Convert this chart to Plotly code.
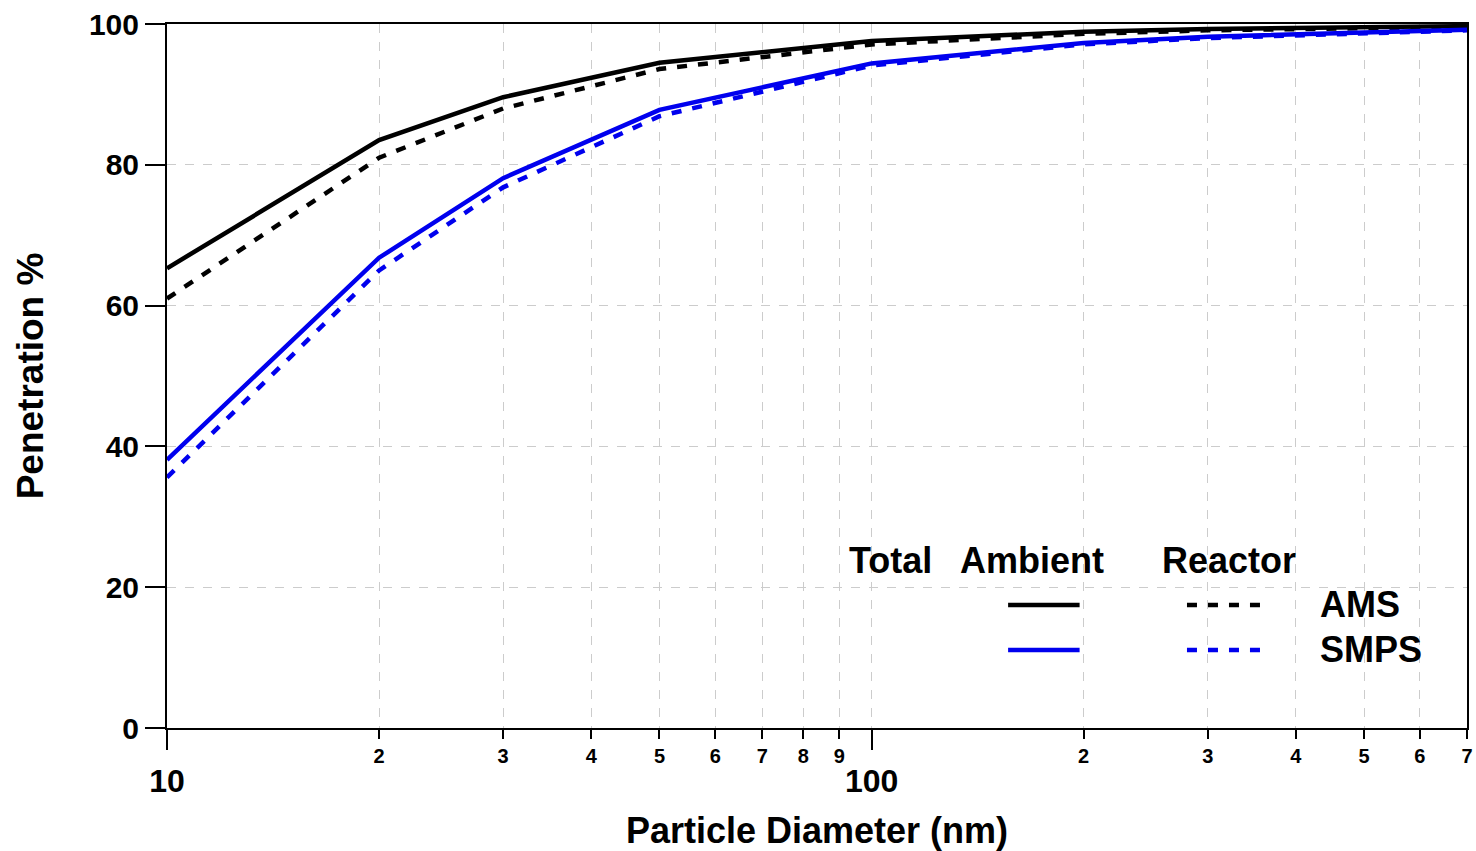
import numpy as np
import plotly.graph_objects as go

# ---- data ----
diameter_nm = [10, 20, 30, 50, 100, 200, 300, 500, 700]
ambient_ams = [65.3, 83.5, 89.6, 94.5, 97.6, 98.9, 99.3, 99.6, 99.7]
reactor_ams = [61.0, 81.0, 88.0, 93.6, 97.1, 98.6, 99.1, 99.4, 99.6]
ambient_smps = [38.1, 66.8, 78.1, 87.8, 94.4, 97.3, 98.2, 98.8, 99.2]
reactor_smps = [35.6, 65.0, 76.8, 86.9, 94.1, 97.1, 98.0, 98.7, 99.1]

major_ticks = [10, 100]
major_labels = ["10", "100"]
minor_ticks = [20, 30, 40, 50, 60, 70, 80, 90, 200, 300, 400, 500, 600, 700]
minor_labels = ["2", "3", "4", "5", "6", "7", "8", "9", "2", "3", "4", "5", "6", "7"]
y_ticks = [0, 20, 40, 60, 80, 100]

FONT = "Liberation Sans, Arial, sans-serif"
BLUE = "#0000ee"
GRID = "#cccccc"
DASH = "10px,11px"

fig = go.Figure()
series = [
    (ambient_ams, "black", "solid", "Ambient AMS"),
    (reactor_ams, "black", DASH, "Reactor AMS"),
    (ambient_smps, BLUE, "solid", "Ambient SMPS"),
    (reactor_smps, BLUE, DASH, "Reactor SMPS"),
]
for vals, col, dash, name in series:
    fig.add_trace(go.Scatter(x=diameter_nm, y=vals, mode="lines", name=name,
                             line=dict(color=col, width=4.5, dash=dash),
                             showlegend=False, cliponaxis=False))

# invisible trace to activate xaxis2
fig.add_trace(go.Scatter(x=[diameter_nm[0]], y=[None], xaxis="x2", showlegend=False,
                         hoverinfo="skip", mode="lines"))

xr = [np.log10(10), np.log10(700)]
fig.update_layout(
    width=1476, height=851,
    margin=dict(l=167, r=9, t=24, b=123),
    plot_bgcolor="white", paper_bgcolor="white",
    font=dict(family=FONT, color="black"),
    xaxis=dict(type="log", range=xr, tickvals=major_ticks, ticktext=major_labels,
               automargin=False, ticklabeloverflow="allow",
               ticks="outside", ticklen=20, tickwidth=2, tickcolor="black",
               tickfont=dict(family=FONT, size=32, weight="bold"),
               ticklabelstandoff=4,
               showline=True, linecolor="black", linewidth=2, mirror=True,
               showgrid=True, gridcolor=GRID, griddash="dash", gridwidth=1,
               zeroline=False,
               title=dict(text="Particle Diameter (nm)", standoff=19,
                          font=dict(family=FONT, size=36, weight="bold"))),
    xaxis2=dict(type="log", range=xr, overlaying="x", anchor="y", side="bottom",
                automargin=False, ticklabeloverflow="allow",
                tickvals=minor_ticks, ticktext=minor_labels,
                ticks="outside", ticklen=10, tickwidth=2, tickcolor="black",
                tickfont=dict(family=FONT, size=20, weight="bold"),
                ticklabelstandoff=0,
                showline=False, showgrid=True, gridcolor=GRID, griddash="dash",
                gridwidth=1, zeroline=False),
    yaxis=dict(range=[0, 100], tickvals=y_ticks, automargin=False,
               ticklabeloverflow="allow",
               ticks="outside", ticklen=20, tickwidth=2, tickcolor="black",
               tickfont=dict(family=FONT, size=30, weight="bold"),
               ticklabelstandoff=0,
               showline=True, linecolor="black", linewidth=2, mirror=True,
               showgrid=True, gridcolor=GRID, griddash="dash", gridwidth=1,
               zeroline=False,
               title=dict(text="Penetration %", standoff=34,
                          font=dict(family=FONT, size=37, weight="bold"))),
)

# white patches (legend box and blank area as in the original)
fig.add_shape(type="rect", xref="paper", yref="paper", x0=0.52, x1=0.97, y0=0.0895, y1=0.267,
              fillcolor="white", line=dict(width=0), layer="between")
fig.add_shape(type="rect", xref="paper", yref="paper", x0=0.6677, x1=0.9677, y0=0.6108, y1=0.723,
              fillcolor="white", line=dict(width=0), layer="between")

# custom legend table
hdr = dict(xref="paper", yref="paper", showarrow=False, xanchor="left", yanchor="middle",
           font=dict(family=FONT, size=36, weight="bold", color="black"))
fig.add_annotation(text="Total", x=0.523, y=0.2386, **hdr)
fig.add_annotation(text="Ambient", x=0.6085, y=0.2386, **hdr)
fig.add_annotation(text="Reactor", x=0.7638, y=0.2386, **hdr)
fig.add_annotation(text="AMS", x=0.8854, y=0.176, **hdr)
fig.add_annotation(text="SMPS", x=0.8854, y=0.1122, **hdr)

for yy, col in [(0.1747, "black"), (0.1108, BLUE)]:
    fig.add_shape(type="line", xref="paper", yref="paper", x0=0.647, x1=0.702, y0=yy, y1=yy,
                  line=dict(color=col, width=4.5))
    fig.add_shape(type="line", xref="paper", yref="paper", x0=0.7846, x1=0.8408, y0=yy, y1=yy,
                  line=dict(color=col, width=4.5, dash=DASH))

fig.write_html("out.html", config={"displayModeBar": False},
               post_script="document.body.style.margin='0';document.body.style.overflow='hidden';")
